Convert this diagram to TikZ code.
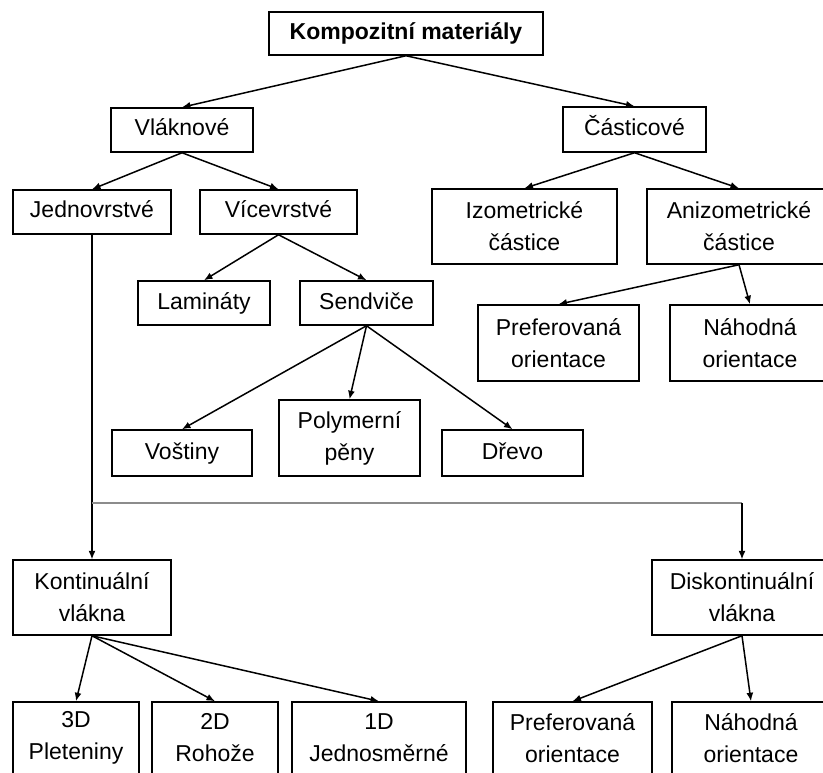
\documentclass[tikz,border=0pt]{standalone}
\usepackage{fontspec}
\setmainfont{Liberation Sans}
\usetikzlibrary{arrows.meta}
\begin{document}
\begin{tikzpicture}[x=1pt,y=-1pt,
  bx/.style={draw=black, line width=1.5pt, inner sep=0pt, align=center,
    font=\fontsize{23}{32}\selectfont, text=black},
  one/.style={text height=17pt, text depth=5pt},
  con/.style={line width=1.5pt, -{Latex[length=8.5pt,width=7pt]}},
  bar/.style={line width=1.8pt, draw=black!45}]
\useasboundingbox (0,0) rectangle (823,773);
\clip (0,0) rectangle (823,773);
% boxes: center x, center y, width, height
\node[bx, one, minimum width=274, minimum height=43, font=\bfseries\fontsize{23}{32}\selectfont] (komp) at (406,33.5) {Kompozitní materiály};
\node[bx, one, minimum width=142, minimum height=44] (vla) at (182,130) {Vláknové};
\node[bx, one, minimum width=143, minimum height=45] (cas) at (634.5,129.5) {Částicové};
\node[bx, one, minimum width=158, minimum height=44] (jed) at (92,212) {Jednovrstvé};
\node[bx, one, minimum width=157, minimum height=44] (vic) at (278.5,212) {Vícevrstvé};
\node[bx, minimum width=185, minimum height=75] (izo) at (524.5,226.5) {Izometrické\\částice};
\node[bx, minimum width=184, minimum height=75] (ani) at (739,226.5) {Anizometrické\\částice};
\node[bx, one, minimum width=132, minimum height=44] (lam) at (204,303) {Lamináty};
\node[bx, one, minimum width=133, minimum height=44] (sen) at (366.5,303) {Sendviče};
\node[bx, minimum width=161, minimum height=76] (pre1) at (558.5,343) {Preferovaná\\orientace};
\node[bx, minimum width=160, minimum height=76] (nah1) at (750,343) {Náhodná\\orientace};
\node[bx, one, minimum width=140, minimum height=46] (vos) at (182,453) {Voštiny};
\node[bx, minimum width=141, minimum height=76] (pol) at (349.5,438) {Polymerní\\pěny};
\node[bx, one, minimum width=141, minimum height=46] (dre) at (512.5,453) {Dřevo};
\node[bx, minimum width=158, minimum height=75] (kon) at (92,597.5) {Kontinuální\\vlákna};
\node[bx, minimum width=180, minimum height=75] (dis) at (742,597.5) {Diskontinuální\\vlákna};
\node[bx, minimum width=126, minimum height=72] (d3) at (76,738) {3D\\Pleteniny};
\node[bx, minimum width=126, minimum height=72] (d2) at (215,738) {2D\\Rohože};
\node[bx, minimum width=174, minimum height=72] (d1) at (379,738) {1D\\Jednosměrné};
\node[bx, minimum width=159, minimum height=72] (pre2) at (572.5,738) {Preferovaná\\orientace};
\node[bx, minimum width=158, minimum height=72] (nah2) at (751,738) {Náhodná\\orientace};
% connectors
\draw[con] (komp.south) -- (vla.north);
\draw[con] (komp.south) -- (cas.north);
\draw[con] (vla.south) -- (jed.north);
\draw[con] (vla.south) -- (vic.north);
\draw[con] (cas.south) -- (izo.north);
\draw[con] (cas.south) -- (ani.north);
\draw[con] (vic.south) -- (lam.north);
\draw[con] (vic.south) -- (sen.north);
\draw[con] (ani.south) -- (pre1.north);
\draw[con] (ani.south) -- (nah1.north);
\draw[con] (sen.south) -- (vos.north);
\draw[con] (sen.south) -- (pol.north);
\draw[con] (sen.south) -- (dre.north);
\coordinate (br) at (92,503);
\coordinate (brr) at (742,503);
\draw[con, line width=1.2pt] (jed.south) -- (kon.north);
\draw[bar] (br) -- (brr);
\draw[con, line width=1.2pt] (brr) -- (dis.north);
\draw[con] (kon.south) -- (d3.north);
\draw[con] (kon.south) -- (d2.north);
\draw[con] (kon.south) -- (d1.north);
\draw[con] (dis.south) -- (pre2.north);
\draw[con] (dis.south) -- (nah2.north);
\end{tikzpicture}
\end{document}
